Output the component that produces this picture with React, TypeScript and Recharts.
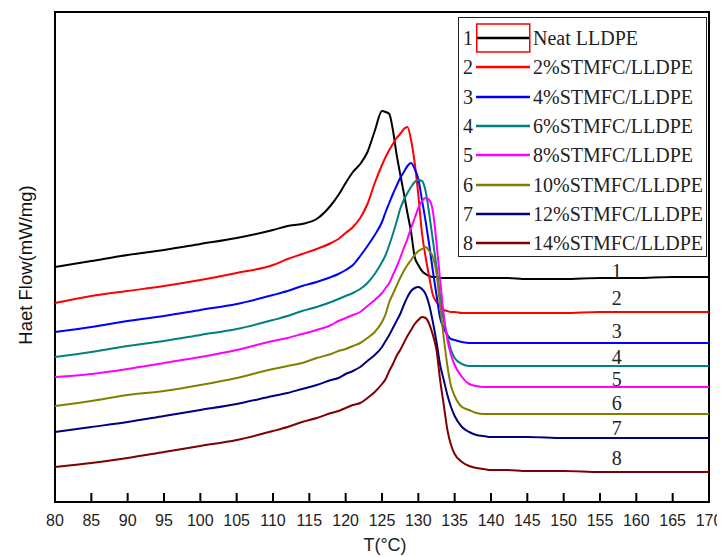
import React from 'react';
import { ComposedChart, Line, XAxis, YAxis, Legend, ReferenceArea, ReferenceDot } from 'recharts';

// temperature grid (°C), shared by all DSC curves
const temps = [
  80, 85, 90, 95, 100, 105, 110, 112, 114, 116,
  118, 119, 120, 121, 122, 123, 124, 125, 125.5, 126,
  126.5, 127, 127.5, 128, 128.5, 129, 129.5, 130, 130.5, 131,
  131.5, 132, 132.5, 133, 133.5, 134, 134.5, 135, 136, 137,
  138, 139, 140, 142, 145, 150, 155, 160, 165, 170,
];

// heat flow curves (offset, arbitrary units)
const neat = [
  2.13, 2.19, 2.25, 2.30, 2.36, 2.42, 2.50, 2.54, 2.56, 2.61,
  2.75, 2.85, 2.97, 3.08, 3.16, 3.28, 3.49, 3.69, 3.68, 3.66,
  3.50, 3.26, 3.06, 2.87, 2.67, 2.48, 2.23, 2.15, 2.09, 2.06,
  2.04, 2.03, 2.03, 2.02, 2.02, 2.02, 2.02, 2.02, 2.02, 2.02,
  2.02, 2.02, 2.02, 2.02, 2.01, 2.01, 2.02, 2.02, 2.03, 2.03,
];
const stmfc2 = [
  1.77, 1.84, 1.89, 1.94, 2.00, 2.07, 2.15, 2.21, 2.26, 2.31,
  2.37, 2.41, 2.47, 2.53, 2.62, 2.76, 2.97, 3.15, 3.23, 3.30,
  3.36, 3.42, 3.46, 3.51, 3.53, 3.40, 3.17, 2.85, 2.47, 2.23,
  2.03, 1.85, 1.78, 1.73, 1.70, 1.69, 1.68, 1.68, 1.67, 1.67,
  1.67, 1.67, 1.67, 1.67, 1.67, 1.67, 1.68, 1.68, 1.68, 1.68,
];
const stmfc4 = [
  1.48, 1.53, 1.59, 1.64, 1.70, 1.76, 1.85, 1.89, 1.94, 1.98,
  2.03, 2.06, 2.10, 2.15, 2.24, 2.34, 2.45, 2.58, 2.68, 2.77,
  2.86, 2.94, 3.02, 3.08, 3.14, 3.17, 3.11, 3.01, 2.80, 2.59,
  2.35, 2.09, 1.85, 1.62, 1.52, 1.45, 1.41, 1.40, 1.38, 1.37,
  1.37, 1.37, 1.37, 1.37, 1.37, 1.37, 1.37, 1.37, 1.37, 1.37,
];
const stmfc6 = [
  1.23, 1.28, 1.34, 1.39, 1.45, 1.51, 1.60, 1.64, 1.69, 1.73,
  1.78, 1.81, 1.84, 1.87, 1.91, 1.97, 2.06, 2.18, 2.25, 2.35,
  2.46, 2.58, 2.71, 2.80, 2.87, 2.93, 2.98, 3.00, 2.99, 2.89,
  2.66, 2.40, 2.13, 1.84, 1.60, 1.44, 1.30, 1.22, 1.16, 1.14,
  1.14, 1.14, 1.14, 1.14, 1.14, 1.14, 1.14, 1.14, 1.14, 1.14,
];
const stmfc8 = [
  1.03, 1.06, 1.11, 1.17, 1.23, 1.30, 1.39, 1.42, 1.46, 1.50,
  1.55, 1.59, 1.62, 1.65, 1.68, 1.74, 1.80, 1.87, 1.92, 1.97,
  2.05, 2.13, 2.22, 2.32, 2.41, 2.52, 2.62, 2.72, 2.79, 2.82,
  2.80, 2.69, 2.37, 2.00, 1.65, 1.40, 1.25, 1.15, 1.03, 0.96,
  0.94, 0.93, 0.93, 0.93, 0.93, 0.93, 0.93, 0.93, 0.93, 0.93,
];
const stmfc10 = [
  0.74, 0.79, 0.85, 0.89, 0.95, 1.02, 1.11, 1.14, 1.17, 1.22,
  1.26, 1.29, 1.31, 1.34, 1.37, 1.42, 1.48, 1.58, 1.66, 1.78,
  1.86, 1.94, 2.02, 2.09, 2.15, 2.20, 2.25, 2.29, 2.31, 2.33,
  2.29, 2.23, 2.07, 1.74, 1.42, 1.14, 0.94, 0.84, 0.73, 0.70,
  0.67, 0.66, 0.66, 0.66, 0.66, 0.66, 0.66, 0.66, 0.66, 0.66,
];
const stmfc12 = [
  0.48, 0.53, 0.58, 0.64, 0.70, 0.76, 0.84, 0.87, 0.91, 0.95,
  1.00, 1.02, 1.06, 1.09, 1.13, 1.19, 1.25, 1.33, 1.39, 1.45,
  1.52, 1.59, 1.66, 1.75, 1.83, 1.89, 1.92, 1.93, 1.91, 1.86,
  1.75, 1.58, 1.38, 1.15, 1.00, 0.85, 0.73, 0.64, 0.53, 0.48,
  0.45, 0.44, 0.43, 0.43, 0.43, 0.42, 0.42, 0.42, 0.42, 0.42,
];
const stmfc14 = [
  0.13, 0.17, 0.22, 0.28, 0.34, 0.40, 0.49, 0.53, 0.58, 0.62,
  0.67, 0.69, 0.72, 0.75, 0.77, 0.82, 0.88, 0.96, 1.01, 1.09,
  1.16, 1.24, 1.30, 1.37, 1.44, 1.50, 1.56, 1.60, 1.63, 1.62,
  1.56, 1.45, 1.30, 1.00, 0.75, 0.50, 0.35, 0.26, 0.18, 0.14,
  0.12, 0.11, 0.10, 0.10, 0.09, 0.09, 0.08, 0.08, 0.08, 0.08,
];

const seriesNames = [
  'Neat LLDPE', '2%STMFC/LLDPE', '4%STMFC/LLDPE', '6%STMFC/LLDPE',
  '8%STMFC/LLDPE', '10%STMFC/LLDPE', '12%STMFC/LLDPE', '14%STMFC/LLDPE',
];
const seriesColors = ['#000000', '#ff0000', '#0000ff', '#008080', '#ff00ff', '#808000', '#000080', '#800000'];
const xTicks = [80, 85, 90, 95, 100, 105, 110, 115, 120, 125, 130, 135, 140, 145, 150, 155, 160, 165, 170];

const allSeries = [neat, stmfc2, stmfc4, stmfc6, stmfc8, stmfc10, stmfc12, stmfc14];

const chartData = temps.map((t, i) => {
  const row: Record<string, number> = { t };
  allSeries.forEach((s, k) => { row['s' + k] = s[i]; });
  return row;
});

// curve numbers on the right, placed between each curve and the one above it
const LABEL_T = 157.3;
const tailValue = (s: number[]) => (s[46] + s[47]) / 2;
const curveLabels = allSeries.map((s, k) => ({
  text: String(k + 1),
  y: k === 0 ? tailValue(s) + 0.07 : 0.6 * tailValue(s) + 0.4 * tailValue(allSeries[k - 1]),
}));

const SERIF = '"Liberation Serif", "Times New Roman", serif';
const SANS = '"Liberation Sans", Arial, sans-serif';

const LegendBox = (props: any) => {
  const items = [...(props.payload || [])].sort(
    (a: any, b: any) => seriesNames.indexOf(a.value) - seriesNames.indexOf(b.value),
  );
  return (
    <div style={{ position: 'relative', width: '100%', height: '100%', fontFamily: SERIF, fontSize: 20, color: '#222' }}>
      {items.map((it: any, i: number) => {
        const mid = 20 + i * 29.3;
        return (
          <div key={i} style={{ position: 'absolute', left: 0, top: mid - 15, height: 30, width: '100%' }}>
            <span style={{ position: 'absolute', left: 4, top: 0, lineHeight: '30px' }}>{i + 1}</span>
            <svg style={{ position: 'absolute', left: 17, top: 0 }} width={56} height={30}>
              <line x1={0} y1={15} x2={54} y2={15} stroke={it.color} strokeWidth={2.5} />
              {i === 0 && <rect x={0.75} y={1} width={53} height={28} fill="none" stroke="#ff0000" strokeWidth={1.5} />}
            </svg>
            <span style={{ position: 'absolute', left: 74, top: 0, lineHeight: '30px', whiteSpace: 'nowrap' }}>{it.value}</span>
          </div>
        );
      })}
    </div>
  );
};

export default function App() {
  return (
    <div style={{ width: 717, height: 549, position: 'relative' }}>
      <ComposedChart width={717} height={549} data={chartData} margin={{ top: 4, right: 16, bottom: 0, left: 0 }}>
        <XAxis
          dataKey="t"
          type="number"
          domain={[80, 170]}
          ticks={xTicks}
          interval={0}
          axisLine={{ stroke: '#000', strokeWidth: 2 }}
          tickLine={{ stroke: '#000', strokeWidth: 2 }}
          tickSize={-9}
          tickMargin={22}
          height={55}
          tick={{ fill: '#222', fontSize: 16, fontFamily: SANS }}
          label={{
            content: (p: any) => (
              <text x={p.viewBox.x + p.viewBox.width / 2 + 3} y={p.viewBox.y + 43} textAnchor="middle" dominantBaseline="central" fontFamily={SANS} fontSize={18} fill="#222">T(°C)</text>
            ),
          }}
        />
        <YAxis
          type="number"
          domain={[-0.22, 4.68]}
          width={47}
          tick={false}
          axisLine={false}
          tickLine={false}
          label={{
            content: (p: any) => {
              const cx = 17;
              const cy = p.viewBox.y + 253;
              return (
                <text x={cx} y={cy} transform={`rotate(-90 ${cx} ${cy})`} textAnchor="middle" dominantBaseline="central" fontFamily={SANS} fontSize={18.5} fill="#111">Haet Flow(mW/mg)</text>
              );
            },
          }}
        />
        <ReferenceArea x1={80} x2={170} y1={-0.22} y2={4.68} fill="none" stroke="#000" strokeWidth={2} />
        {allSeries.map((_, k) => (
          <Line
            key={k}
            type="monotone"
            dataKey={'s' + k}
            name={seriesNames[k]}
            stroke={seriesColors[k]}
            strokeWidth={2}
            dot={false}
            activeDot={false}
            isAnimationActive={false}
          />
        ))}
        {curveLabels.map((c) => (
          <ReferenceDot
            key={c.text}
            x={LABEL_T}
            y={c.y}
            r={0}
            shape={(p: any) => (
              <text x={p.cx} y={p.cy} textAnchor="middle" dominantBaseline="central" fontFamily={SERIF} fontSize={20} fill="#222">{c.text}</text>
            )}
          />
        ))}
        <Legend
          layout="horizontal"
          verticalAlign="middle"
          align="center"
          content={<LegendBox />}
          wrapperStyle={{
            left: 450, top: 9, width: 249, height: 240,
            border: '1.5px solid #222', background: '#fff', boxSizing: 'border-box',
          }}
        />
      </ComposedChart>
    </div>
  );
}
